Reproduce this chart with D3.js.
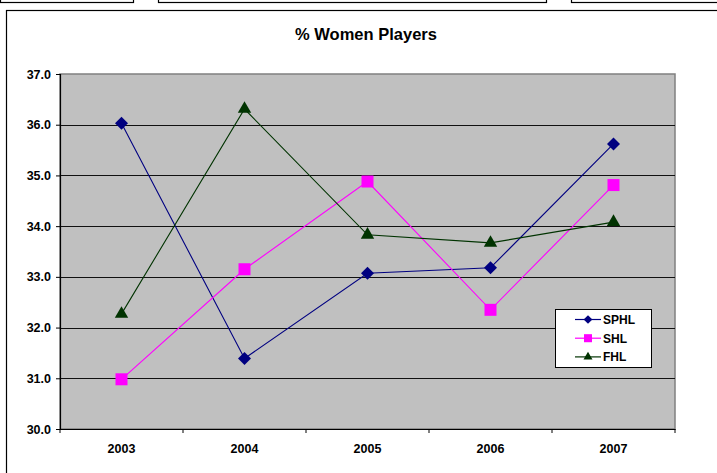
<!DOCTYPE html>
<html><head><meta charset="utf-8">
<script src="https://cdn.jsdelivr.net/npm/d3@7"></script>
<style>body{margin:0;background:#fff}svg{display:block;font-family:"Liberation Sans",Arial,sans-serif}</style>
</head><body><svg id="c" width="717" height="473"></svg>
<script>
const years = ["2003","2004","2005","2006","2007"];
const sphl = [36.03, 31.39, 33.07, 33.18, 35.62];
const shl  = [30.98, 33.15, 34.88, 32.35, 34.81];
const fhl  = [32.27, 36.31, 33.83, 33.67, 34.08];
const seriesNames = ["SPHL","SHL","FHL"];
const yTicks = [30,31,32,33,34,35,36,37];

const svg = d3.select("#c");
// top cropped boxes
[[0,133],[158,546],[571,730]].forEach(([a,b])=>svg.append("rect").attr("x",a+0.5).attr("y",-10).attr("width",b-a).attr("height",12.5).attr("fill","#fff").attr("stroke","#000").attr("stroke-width",1.2));
// chart border
svg.append("rect").attr("x",6.5).attr("y",10.5).attr("width",730).attr("height",480).attr("fill","#fff").attr("stroke","#000").attr("stroke-width",1.2);

const L=60,R=675,T=74,B=429;
const x = d3.scaleBand().domain(years).range([L,R]);
const y = d3.scaleLinear().domain([30,37]).range([B,T]);

svg.append("text").attr("x",366).attr("y",40).attr("text-anchor","middle").attr("font-weight","bold").attr("font-size",16.5).text("% Women Players");

svg.append("rect").attr("x",L).attr("y",T).attr("width",R-L).attr("height",B-T).attr("fill","#C0C0C0").attr("stroke","#808080").attr("stroke-width",1.5);
svg.append("g").selectAll("line").data(yTicks.filter(t=>t>30&&t<37)).join("line")
  .attr("x1",L).attr("x2",R).attr("y1",d=>Math.round(y(d))+0.5).attr("y2",d=>Math.round(y(d))+0.5)
  .attr("stroke","#111").attr("stroke-width",1.2);

const ya = svg.append("g").attr("transform",`translate(${L},0)`).call(d3.axisLeft(y).tickValues(yTicks).tickFormat(d3.format(".1f")).tickSize(4).tickPadding(5));
ya.select(".domain").attr("stroke","#000").attr("stroke-width",1.2);
ya.selectAll("text").attr("font-size",12.5).attr("font-weight","bold").attr("font-family","Liberation Sans, Arial").attr("fill","#000");

const xa = svg.append("g").attr("transform",`translate(0,${B})`).call(d3.axisBottom(x).tickSize(0).tickPadding(15));
xa.select(".domain").attr("stroke","#000").attr("stroke-width",1.2);
xa.selectAll("text").attr("font-size",12.5).attr("font-weight","bold").attr("font-family","Liberation Sans, Arial").attr("fill","#000");
// category boundary ticks
const bounds = years.map(d=>x(d)).concat([R]);
svg.append("g").selectAll("line").data(bounds).join("line")
  .attr("x1",d=>d).attr("x2",d=>d).attr("y1",B).attr("y2",B+4).attr("stroke","#000");

const series = [
  {name:"SPHL", vals:sphl, color:"#000080", sym:d3.symbolSquare, size:85, rot:45},
  {name:"SHL", vals:shl, color:"#FF00FF", sym:d3.symbolSquare, size:144, rot:0},
  {name:"FHL", vals:fhl, color:"#003300", sym:d3.symbolTriangle, size:78, rot:0}
];
const cx = d=>x(d)+x.bandwidth()/2;
series.forEach(s=>{
  const g = svg.append("g");
  g.append("path").datum(s.vals).attr("fill","none").attr("stroke",s.color).attr("stroke-width",1.1)
    .attr("d",d3.line().x((d,i)=>cx(years[i])).y(d=>y(d)));
  g.selectAll("path.m").data(s.vals).join("path").attr("class","m")
    .attr("transform",(d,i)=>`translate(${cx(years[i])},${y(d)}) rotate(${s.rot})`)
    .attr("d",d3.symbol(s.sym,s.size)).attr("fill",s.color);
});

// legend
const lg = svg.append("g");
lg.append("rect").attr("x",555.5).attr("y",309.5).attr("width",96).attr("height",58).attr("fill","#fff").attr("stroke","#000");
series.forEach((s,i)=>{
  const yy = 319.5+i*18.7;
  lg.append("line").attr("x1",575).attr("x2",601).attr("y1",yy).attr("y2",yy).attr("stroke",s.color).attr("stroke-width",1.2);
  lg.append("path").attr("transform",`translate(588,${yy}) rotate(${s.rot})`).attr("d",d3.symbol(s.sym,s.size*0.45)).attr("fill",s.color);
  lg.append("text").attr("x",603).attr("y",yy+4.5).attr("font-size",12).attr("font-weight","bold").text(s.name);
});
</script></body></html>
